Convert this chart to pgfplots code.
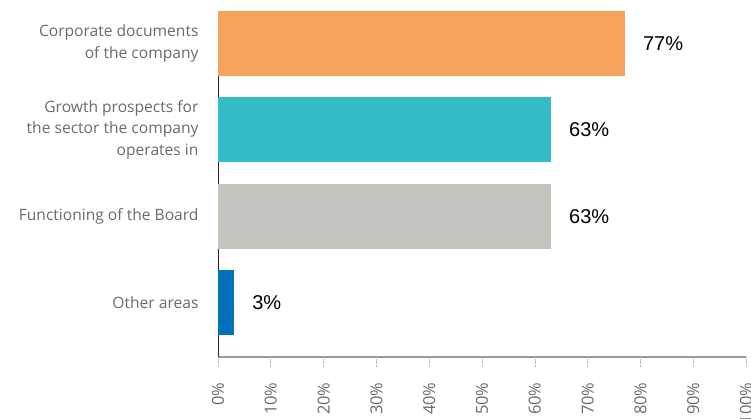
\documentclass[border=0pt]{standalone}
\usepackage{fontspec}
\setmainfont{Open Sans}
\newfontfamily\valfont{Liberation Sans}
\usepackage{pgfplots}
\pgfplotsset{compat=1.18}
\definecolor{cOrange}{HTML}{F5A35B}
\definecolor{cTeal}{HTML}{33BCC8}
\definecolor{cGrey}{HTML}{C3C4BD}
\definecolor{cBlue}{HTML}{0070B8}
\definecolor{lblgray}{HTML}{6A6A6A}
\begin{document}
\begin{tikzpicture}
\begin{axis}[
  scale only axis,
  width=528pt, height=346pt,
  xbar, bar width=65pt, bar shift=0pt,
  xmin=0, xmax=100,
  ymin=-0.63, ymax=3.376,
  axis x line*=bottom,
  axis y line*=left,
  x axis line style={draw=gray!80, line width=1.3pt},
  y axis line style={draw=black!85, line width=0.8pt},
  xtick={0,10,...,100},
  xticklabels={0\%,10\%,20\%,30\%,40\%,50\%,60\%,70\%,80\%,90\%,100\%},
  xtick style={draw=gray!50, densely dotted, line width=0.6pt},
  tick align=outside,
  major tick length=9pt,
  xticklabel style={rotate=90, anchor=east, font=\fontsize{16.5}{17}\selectfont, text=lblgray, xshift=-13pt},
  ytick={0,1,2,3},
  yticklabels={Other areas, Functioning of the Board, {Growth prospects for\\the sector the company\\operates in}, {Corporate documents\\of the company}},
  yticklabel style={align=right, font=\fontsize{15.6}{21.5}\selectfont, text=lblgray, xshift=-7pt},
  ytick style={draw=none},
  nodes near coords={\pgfmathprintnumber[assume math mode=true]{\pgfplotspointmeta}\%},
  nodes near coords style={font=\valfont\fontsize{20}{22}\selectfont, text=black, anchor=west, xshift=15pt},
  point meta=x,
  clip=false,
]
\addplot[draw=none, fill=cBlue] coordinates {(3,0)};
\addplot[draw=none, fill=cGrey] coordinates {(63,1)};
\addplot[draw=none, fill=cTeal] coordinates {(63,2)};
\addplot[draw=none, fill=cOrange] coordinates {(77,3)};
\end{axis}
\pgfresetboundingbox
\path[use as bounding box] (current axis.south west) ++(-218pt,-62pt) rectangle ++(751pt,419pt);
\end{tikzpicture}
\end{document}
